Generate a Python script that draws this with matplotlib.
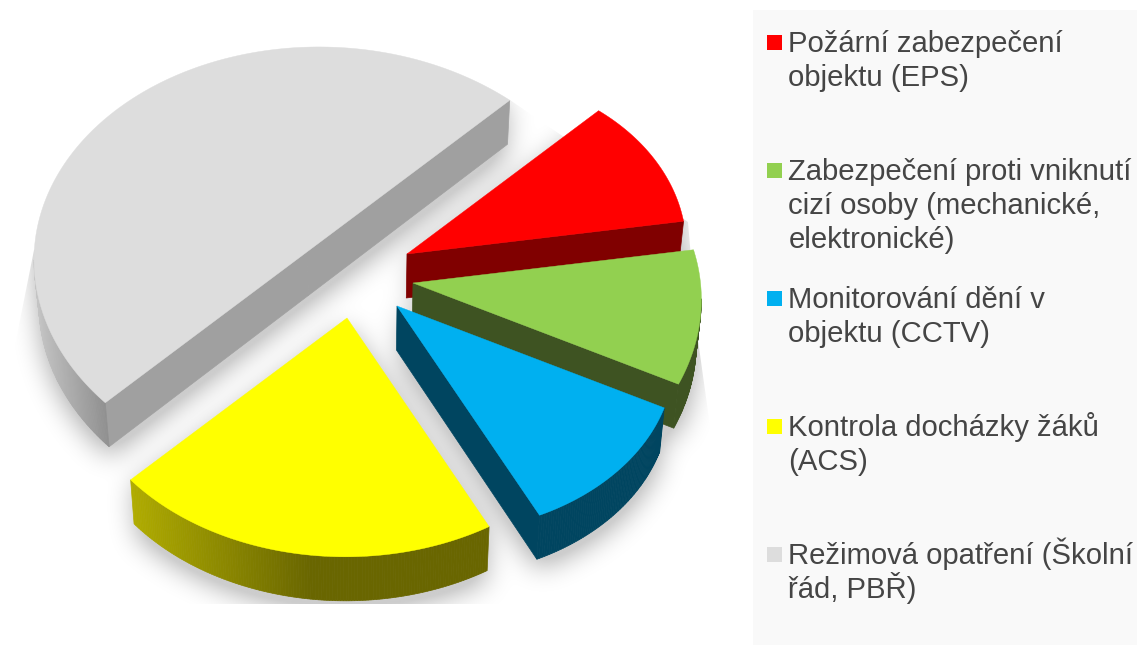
import numpy as np
import matplotlib
matplotlib.use("Agg")
import matplotlib.pyplot as plt
from matplotlib.path import Path
from matplotlib.patches import PathPatch, Rectangle
from matplotlib.colors import to_rgb

# ---- data ----
labels = [
    ["Požární zabezpečení", "objektu (EPS)"],
    ["Zabezpečení proti vniknutí", "cizí osoby (mechanické,", "elektronické)"],
    ["Monitorování dění v", "objektu (CCTV)"],
    ["Kontrola docházky žáků", "(ACS)"],
    ["Režimová opatření (Školní", "řád, PBŘ)"],
]
values = [10, 10, 10, 20, 50]

# ---- styles / layout ----
top_colors = ["#FF0000", "#92D050", "#00B0F0", "#FFFF00", "#DDDDDD"]
side_colors = ["#800000", "#3E5322", "#004560", "#696600", "#A0A0A0"]
apex = [(407, 254), (413, 283), (397, 306), (347, 318), (307.5, 251.5)]
radii = [(271, 278, 280), (284, 291, 298), (300, 312, 314), (313, 319, 306), (286, 269, 286)]
start_angle = 45.0
aspect = 1.337
depth = 44
squeeze = 0.985
squeeze_x = 360
legend_tops = [35, 163, 291, 419, 547]
text_color = "#454545"


def slice_outline(i):
    frac = np.cumsum([0] + values) / sum(values) * 360
    t0, t1 = start_angle - frac[i], start_angle - frac[i + 1]
    t = np.linspace(t0, t1, max(int(abs(t1 - t0)) * 2, 30))
    s = (t - t0) / (t1 - t0)
    r0, rm, r1 = radii[i]
    r = r0 * (1 - s) * (1 - 2 * s) + 4 * rm * s * (1 - s) + r1 * s * (2 * s - 1)
    x = apex[i][0] + r * np.cos(np.radians(t))
    y = apex[i][1] - r / aspect * np.sin(np.radians(t))
    return x, y


def lower(x, y):
    return squeeze_x + (x - squeeze_x) * squeeze, y + depth


def side_color(i, xm):
    if i == 3:  # yellow rim gradient
        f = np.clip((xm - 131) / (310 - 131), 0, 1)
        a, b = np.array(to_rgb("#B0AC00")), np.array(to_rgb("#696600"))
        return tuple(a + (b - a) * f)
    if i == 4:
        f = np.clip((xm - 35) / (105 - 35), 0, 1)
        a, b = np.array(to_rgb("#C4C4C4")), np.array(to_rgb("#909090"))
        return tuple(a + (b - a) * f)
    return side_colors[i]


W, H = 1137, 645
fig = plt.figure(figsize=(W / 100, H / 100), dpi=100, facecolor="white")
ax = fig.add_axes([0, 0, 1, 1])
ax.set_xlim(0, W)
ax.set_ylim(H, 0)
ax.axis("off")

# ---- soft shadow ----
step = 2
gx, gy = np.meshgrid(np.arange(0, W, step), np.arange(0, H, step))
pts = np.column_stack([gx.ravel(), gy.ravel()])
mask = np.zeros(gx.shape)
for i in range(len(values)):
    x, y = slice_outline(i)
    px = np.r_[apex[i][0], x]
    py = np.r_[apex[i][1], y]
    bx, by = lower(px, py)
    for f in np.linspace(0, 1, 5):
        poly = np.column_stack([px + (bx - px) * f, py + (by - py) * f + 9])
        mask = np.maximum(mask, Path(poly).contains_points(pts).reshape(gx.shape).astype(float))
kernel = np.ones(13) / 13
blur = mask
for _ in range(3):
    blur = np.apply_along_axis(lambda v: np.convolve(v, kernel, mode="same"), 0, blur)
    blur = np.apply_along_axis(lambda v: np.convolve(v, kernel, mode="same"), 1, blur)
alpha = np.clip(blur * 1.7, 0, 1) * 0.2
rgba = np.zeros(gx.shape + (4,))
rgba[..., 3] = alpha
im = ax.imshow(rgba, extent=(0, W, H, 0), interpolation="bilinear", aspect="auto", zorder=1)
ax.set_xlim(0, W)
ax.set_ylim(H, 0)
clip = PathPatch(Path([(34, 250), (10, 370), (10, 604), (712, 604), (712, 440), (698, 340),
                       (688, 222), (510, 100), (300, 60), (34, 250)]),
                 transform=ax.transData, fc="none", ec="none")
ax.add_patch(clip)
im.set_clip_path(clip)

# ---- slices ----
z = 2
for i in [4, 0, 1, 2, 3]:
    x, y = slice_outline(i)
    ox = np.r_[apex[i][0], x, apex[i][0]]
    oy = np.r_[apex[i][1], y, apex[i][1]]
    lx, ly = lower(ox, oy)
    last = len(ox) - 2
    # straight faces first, the curved rim over them; only faces turned to the viewer
    for k in [0, last] + list(range(1, last)):
        if ox[k + 1] >= ox[k]:
            continue
        xm = (ox[k] + ox[k + 1]) / 2
        col = side_colors[i] if k in (0, last) else side_color(i, xm)
        ax.fill([ox[k], ox[k + 1], lx[k + 1], lx[k]], [oy[k], oy[k + 1], ly[k + 1], ly[k]],
                fc=col, ec=col, lw=0.5, zorder=z)
    ax.fill(ox, oy, fc=top_colors[i], ec=top_colors[i], lw=0.3, zorder=z + 0.5)
    z += 1

# ---- legend ----
ax.add_patch(Rectangle((753, 10), W - 753, H - 10, fc="#F9F9F9", ec="none", zorder=20))
for lines, top, col in zip(labels, legend_tops, top_colors):
    ax.add_patch(Rectangle((767, top), 15, 15, fc=col, ec="none", zorder=21))
    for n, line in enumerate(lines):
        ax.text(788.5, top + 17 + n * 34, line, fontsize=21.1, family="Liberation Sans",
                color=text_color, va="baseline", ha="left", zorder=22)

fig.savefig("out.png", dpi=100, facecolor="white")
